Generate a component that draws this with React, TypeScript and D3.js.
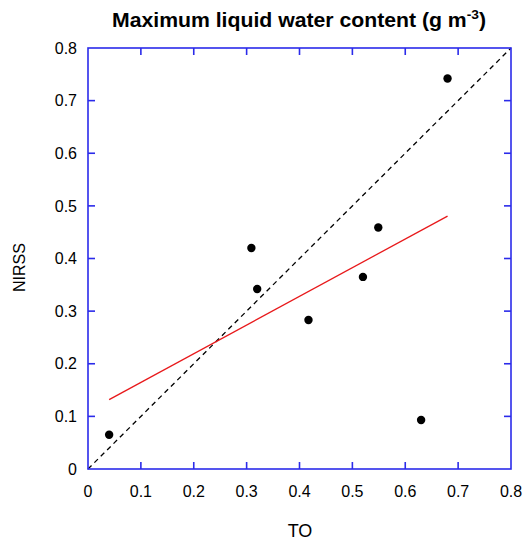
import React from "react";
import * as d3 from "d3";

const toValues = [0.04, 0.309, 0.32, 0.417, 0.52, 0.549, 0.63, 0.68];
const nirssValues = [0.065, 0.42, 0.342, 0.283, 0.365, 0.459, 0.093, 0.742];
const tickValues = [0, 0.1, 0.2, 0.3, 0.4, 0.5, 0.6, 0.7, 0.8];
const tickLabels = ["0", "0.1", "0.2", "0.3", "0.4", "0.5", "0.6", "0.7", "0.8"];

const W = 530, H = 540;
const L = 88, R = 511, T = 48, B = 469;
const AXIS = "#2b2bea";
const FONT = "Liberation Sans, Arial, sans-serif";

export default function App() {
  const x = d3.scaleLinear().domain([0, 0.8]).range([L, R]);
  const y = d3.scaleLinear().domain([0, 0.8]).range([B, T]);
  const pts = toValues.map((v, i) => [v, nirssValues[i]] as [number, number]);
  const mx = d3.mean(toValues)!;
  const my = d3.mean(nirssValues)!;
  const sxy = d3.sum(pts, (p) => (p[0] - mx) * (p[1] - my));
  const sxx = d3.sum(pts, (p) => (p[0] - mx) ** 2);
  const slope = sxy / sxx;
  const icpt = my - slope * mx;
  const [xmin, xmax] = d3.extent(toValues) as [number, number];
  const line = d3.line<[number, number]>().x((d) => x(d[0])).y((d) => y(d[1]));
  const fit: [number, number][] = [[xmin, icpt + slope * xmin], [xmax, icpt + slope * xmax]];
  const diag: [number, number][] = [[0, 0], [0.8, 0.8]];
  const tl = 7;
  return (
    <svg width={W} height={H} style={{ position: "absolute", left: 0, top: 0 }}>
      <rect width={W} height={H} fill="white" />
      <text x={112} y={27} textLength={374} lengthAdjust="spacingAndGlyphs" fontFamily={FONT} fontWeight="bold" fontSize={20}>
        Maximum liquid water content (g m<tspan dy={-8} fontSize={13}>-3</tspan><tspan dy={8}>)</tspan>
      </text>
      <path d={line(diag)!} stroke="black" strokeWidth={1.3} strokeDasharray="5,4" fill="none" />
      <path d={line(fit)!} stroke="#e8191b" strokeWidth={1.3} fill="none" />
      {pts.map((p, i) => (
        <circle key={i} cx={x(p[0])} cy={y(p[1])} r={4.2} fill="black" />
      ))}
      <rect x={L} y={T} width={R - L} height={B - T} fill="none" stroke={AXIS} strokeWidth={1.6} />
      {tickValues.slice(1, -1).map((t, i) => (
        <g key={i} stroke={AXIS} strokeWidth={1.6}>
          <line x1={x(t)} x2={x(t)} y1={B} y2={B - tl} />
          <line x1={x(t)} x2={x(t)} y1={T} y2={T + tl} />
          <line x1={L} x2={L + tl} y1={y(t)} y2={y(t)} />
          <line x1={R} x2={R - tl} y1={y(t)} y2={y(t)} />
        </g>
      ))}
      {tickValues.map((t, i) => (
        <text key={"x" + i} x={x(t)} y={497} textAnchor="middle" fontFamily={FONT} fontSize={16}>
          {tickLabels[i]}
        </text>
      ))}
      {tickValues.map((t, i) => (
        <text key={"y" + i} x={77} y={y(t) + 5.7} textAnchor="end" fontFamily={FONT} fontSize={16}>
          {tickLabels[i]}
        </text>
      ))}
      <text x={300} y={537} textAnchor="middle" fontFamily={FONT} fontSize={18}>TO</text>
      <text transform={`translate(25,267.5) rotate(-90)`} textAnchor="middle" fontFamily={FONT} fontSize={16}>NIRSS</text>
    </svg>
  );
}
